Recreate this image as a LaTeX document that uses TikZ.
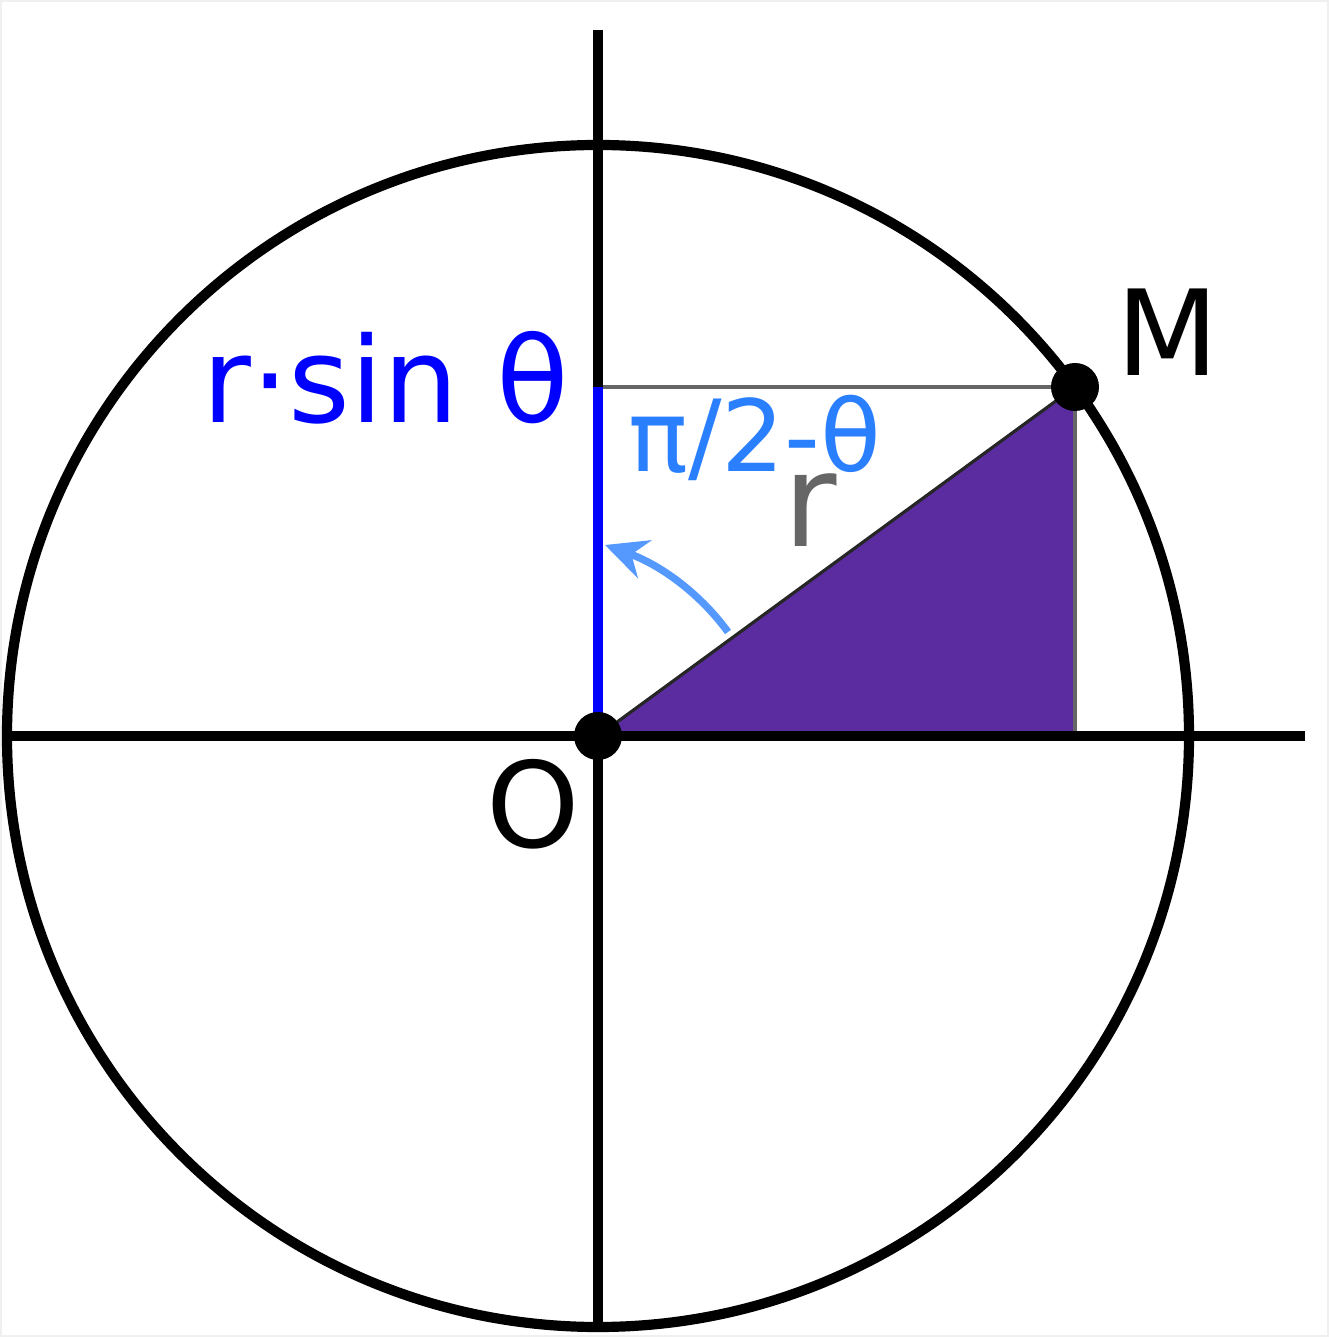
\documentclass[tikz,border=0pt]{standalone}
\usepackage{fontspec}
\setmainfont{DejaVu Sans}
\usetikzlibrary{arrows.meta}
\definecolor{AxisBlack}{RGB}{0,0,0}
\definecolor{SinBlue}{RGB}{0,0,255}
\definecolor{AngleBlue}{RGB}{42,127,255}
\definecolor{ArcBlue}{RGB}{85,153,255}
\definecolor{TriPurple}{RGB}{90,44,160}
\definecolor{EdgeGray}{RGB}{102,102,102}

\begin{document}
\begin{tikzpicture}[
    axisline/.style={line width=2.9pt, draw=AxisBlack},
    thinline/.style={line width=0.9pt, draw=EdgeGray},
    dot/.style={circle, fill=black, inner sep=0pt, minimum size=0.48cm},
    bigtext/.style={font=\fontsize{33.8pt}{40pt}\selectfont, inner sep=0pt, anchor=base},
    midtext/.style={font=\fontsize{28.3pt}{33pt}\selectfont, inner sep=0pt, anchor=base},
    arcarrow/.style={-{Stealth[length=4.2mm, width=4mm, inset=1.4mm]}, line width=2.1pt, draw=ArcBlue}
  ]
    \useasboundingbox (-5.98,-6.01) rectangle (7.31,7.36);
    \draw[gray!12, line width=0.6pt] (-5.97,-6.00) rectangle (7.30,7.35);

    \coordinate (o) at (0,0);
    \coordinate (m) at (4.77,3.49);
    \coordinate (foot) at (4.77,0);
    \coordinate (proj) at (0,3.49);
    \coordinate (left) at (-5.91,0);
    \coordinate (right) at (7.07,0);
    \coordinate (top) at (0,7.06);
    \coordinate (bottom) at (0,-5.94);

    % triangle O-foot-M
    \fill[TriPurple] (o) -- (foot) -- (m) -- cycle;
    \draw[line width=0.9pt, draw=black!85] (o) -- (m);
    \draw[thinline] (proj) -- (m);
    \draw[thinline] (m) -- (foot);

    % axes and circle
    \draw[axisline] (left) -- (right);
    \draw[axisline] (bottom) -- (top);
    \draw[axisline] (o) circle (5.91);

    % r sin theta segment
    \coordinate (sinlow) at (0,0.21);
    \draw[line width=3.1pt, draw=SinBlue] (sinlow) -- (proj);

    % angle arrow
    \coordinate (arcstart) at (1.30,1.04);
    \coordinate (arcend) at (0.07,1.91);
    \draw[arcarrow] (arcstart) .. controls (1.0,1.45) and (0.6,1.72) .. (arcend);

    \node[dot] (odot) at (o) {};
    \node[dot] (mdot) at (m) {};

    \node[bigtext, text=SinBlue] (sinlbl) at (-2.12,3.13) {r·sin θ};
    \node[midtext, text=AngleBlue] (anglbl) at (1.57,2.64) {π/2-θ};
    \node[bigtext, text=EdgeGray, font=\fontsize{37pt}{42pt}\selectfont] (rlbl) at (2.12,1.89) {r};
    \node[bigtext] (mlbl) at (5.70,3.60) {M};
    \node[bigtext] (olbl) at (-0.65,-1.12) {O};
  \end{tikzpicture}
\end{document}
